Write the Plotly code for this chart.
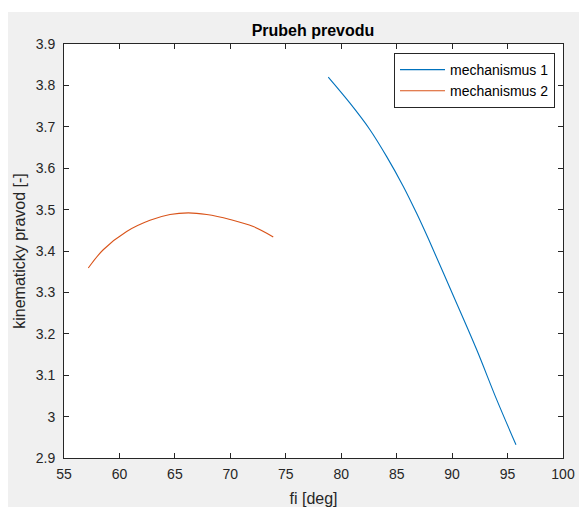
import plotly.graph_objects as go

# Data
mech1_fi = [78.83, 80.79, 82.59, 84.10, 85.60, 86.80, 87.85, 90.11, 92.21, 94.02, 95.76]
mech1_ratio = [3.820, 3.757, 3.693, 3.628, 3.556, 3.491, 3.430, 3.292, 3.162, 3.041, 2.932]

mech2_fi = [57.19, 58.54, 60.65, 62.75, 64.56, 66.21, 67.87, 69.97, 72.07, 73.87]
mech2_ratio = [3.359, 3.403, 3.447, 3.474, 3.488, 3.492, 3.488, 3.476, 3.459, 3.434]

x_ticks = [55, 60, 65, 70, 75, 80, 85, 90, 95, 100]
y_ticks = [2.9, 3.0, 3.1, 3.2, 3.3, 3.4, 3.5, 3.6, 3.7, 3.8, 3.9]
y_tick_text = ["2.9", "3", "3.1", "3.2", "3.3", "3.4", "3.5", "3.6", "3.7", "3.8", "3.9"]

W, H = 579, 507
L, R, T, B = 64, 563, 44, 458
FONT = "Liberation Sans, Arial"

fig = go.Figure()
fig.add_trace(go.Scatter(x=mech1_fi, y=mech1_ratio, mode="lines", name="mechanismus 1",
                         line=dict(color="#0072BD", width=1.1, shape="spline", smoothing=1.0)))
fig.add_trace(go.Scatter(x=mech2_fi, y=mech2_ratio, mode="lines", name="mechanismus 2",
                         line=dict(color="#D95319", width=1.1, shape="spline", smoothing=1.0)))

pw = R - L
ph = B - T
def px2x(px):
    return (px - L) / pw
def py2y(py):
    return 1 - (py - T) / ph

axis_common = dict(
    showline=True, linecolor="#262626", linewidth=1, mirror="ticks",
    ticks="inside", ticklen=5, tickcolor="#262626", tickwidth=1,
    showgrid=False, zeroline=False, automargin=False,
    tickfont=dict(family=FONT, size=14, color="#262626"),
)

fig.update_layout(
    width=W, height=H,
    margin=dict(l=L, r=W - R, t=T, b=H - B, pad=0, autoexpand=False),
    paper_bgcolor="#F0F0F0", plot_bgcolor="white",
    title=dict(text="<b>Prubeh prevodu</b>", x=px2x(313), xref="paper", xanchor="center",
               y=1 - 30 / H, yanchor="middle",
               font=dict(family=FONT, size=16, color="black")),
    xaxis=dict(range=[55, 100], tickvals=x_ticks, ticklabelstandoff=3,
               title=dict(text="fi [deg]", standoff=12,
                          font=dict(family=FONT, size=16, color="#262626")),
               **axis_common),
    yaxis=dict(range=[2.9, 3.9], tickvals=y_ticks, ticktext=y_tick_text, ticklabelstandoff=5,
               title=dict(text="kinematicky pravod [-]", standoff=6,
                          font=dict(family=FONT, size=16, color="#262626")),
               **axis_common),
    legend=dict(x=px2x(394), y=py2y(53), xanchor="left", yanchor="top",
                bgcolor="white", bordercolor="#262626", borderwidth=1,
                font=dict(family=FONT, size=14, color="black"),
                itemwidth=45, tracegroupgap=0),
    showlegend=True,
    shapes=[
        # white outer border (top and left) around the gray figure background
        dict(type="rect", xref="paper", yref="paper",
             x0=px2x(0), x1=px2x(8), y0=py2y(H), y1=py2y(0),
             fillcolor="white", line=dict(width=0), layer="below"),
        dict(type="rect", xref="paper", yref="paper",
             x0=px2x(0), x1=px2x(W), y0=py2y(12), y1=py2y(0),
             fillcolor="white", line=dict(width=0), layer="below"),
    ],
)

fig.write_html("out.html")
